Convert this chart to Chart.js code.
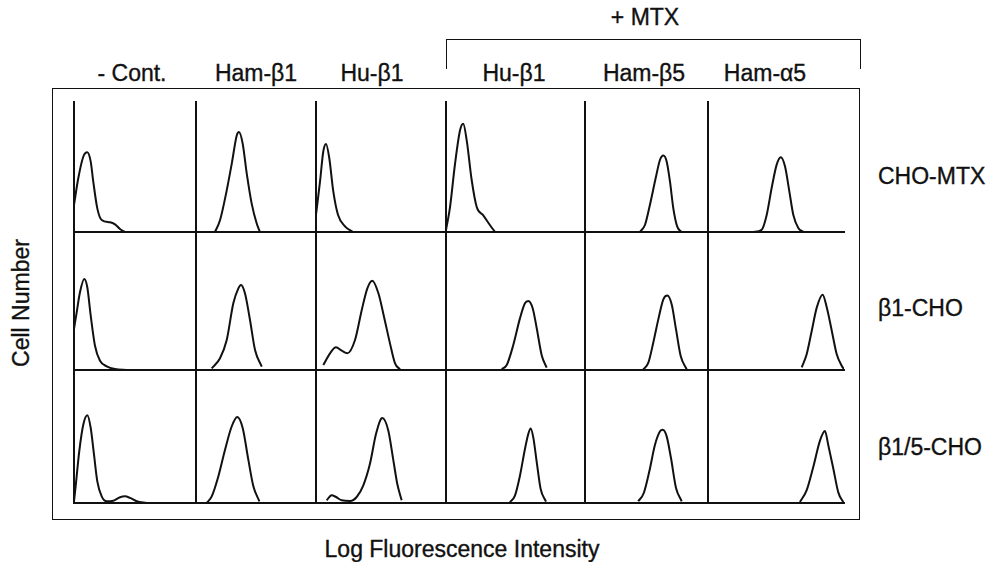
<!DOCTYPE html>
<html><head><meta charset="utf-8">
<script src="https://cdn.jsdelivr.net/npm/chart.js@4.4.1/dist/chart.umd.min.js"></script>
<style>
html,body{margin:0;padding:0;background:#fff;}
#root{position:relative;width:990px;height:562px;overflow:hidden;font-family:"Liberation Sans",Arial,Helvetica,sans-serif;color:#111;}
.lbl,.lblL{position:absolute;font-size:23px;white-space:nowrap;line-height:1;-webkit-text-stroke:0.35px #111;}
.lbl{transform:translate(-50%,-50%);}
.lblL{transform:translate(0,-50%);}
.box{position:absolute;box-sizing:border-box;}
.pane{position:absolute;}
</style></head><body><div id="root"></div>
<script>
// ---- text ----
const columns = ["- Cont.", "Ham-β1", "Hu-β1", "Hu-β1", "Ham-β5", "Ham-α5"];
const rows = ["CHO-MTX", "β1-CHO", "β1/5-CHO"];
const groupLabel = "+ MTX";
const xTitle = "Log Fluorescence Intensity";
const yTitle = "Cell Number";

// ---- histogram data: [log fluorescence channel (0-100), relative cell number (0-100)] ----
// row CHO-MTX
const choMtx_cont   = [[0,20.8],[3.5,41.3],[7.6,57.9],[10.9,61.3],[13.7,54.1],[15.8,38.7],[19.1,18.2],[22.7,9.2],[29.5,7.5],[33.6,5.9],[37.7,2.3],[41.8,0]];
const choMtx_hamB1  = [[15.8,0],[20,9],[25.6,32],[29.8,52.6],[34,74.4],[35.8,76.9],[38.9,68],[42.3,44.9],[46.4,21.8],[50.6,6.5],[53.3,0]];
const choMtx_huB1   = [[0,13.3],[3.1,38.9],[5.6,61.9],[7.7,67.7],[10.2,56.9],[13.3,31.2],[16.9,13.3],[22.3,4.3],[28.5,0]];
const choMtx_mtxHuB1  = [[0,1.5],[2.9,19.2],[6.5,52.5],[10.1,78.2],[12.4,83.3],[14.9,70.5],[18.5,39.8],[22.1,19.2],[26.8,12.8],[31.7,5.2],[35.3,0]];
const choMtx_mtxHamB5 = [[44.7,0],[48.8,5.6],[52.8,21],[57.7,42.5],[61,55.6],[63.7,58.9],[66.4,54.3],[69.1,38.7],[71.8,18.2],[75,4.1],[78.6,0]];
const choMtx_mtxHamA5 = [[33.3,0],[39.5,1.8],[43.2,13.3],[46.8,33.8],[50.5,51.8],[53.5,57.5],[56.6,50.5],[59.8,31.3],[62.7,13.3],[66.4,3.1],[70.1,0]];
// row β1-CHO
const b1_cont   = [[0,29.7],[2.2,41.8],[4.9,56.3],[8.4,66],[10.9,60],[13.7,39.4],[17.2,17.6],[21.3,6.7],[26.8,2.7],[33.6,0.7],[43.2,0]];
const b1_hamB1  = [[13.1,1.2],[20,8.5],[25.6,21.7],[31.1,48.3],[35.3,59.2],[37.5,61.6],[40.8,55.6],[45,36.2],[49.2,14.5],[54.8,2.4]];
const b1_huB1   = [[5.6,3.6],[10.8,12.1],[15.4,16.4],[19.8,14],[24.1,12.1],[30,21.7],[35.2,43.5],[39.5,59.2],[43.3,64.7],[48,55.6],[52.3,38.6],[56.9,19.3],[60.8,4.8],[64.6,0.5]];
const b1_mtxHuB1  = [[40.1,0.7],[43.7,3.6],[48.4,18.1],[53.2,37.4],[56.8,48.3],[59.2,50],[62.4,44.6],[65.3,30.1],[68.8,10.9],[72.4,1.7]];
const b1_mtxHamB5 = [[47.4,0.4],[51.5,5.3],[55.5,19.8],[59.6,36.7],[63.7,51.2],[66.9,54],[70.5,47.5],[74,29.4],[77.8,10.1],[82.7,0.4]];
const b1_mtxHamA5 = [[68.9,1.9],[72.6,11.6],[76.3,28.5],[80,45.4],[84.3,54.6],[87.3,45.4],[91,28.5],[94.6,11.6],[98.3,3.1],[100,0.5]];
// row β1/5-CHO
const b15_cont   = [[0,1.3],[1.5,13.8],[4.3,38.9],[7.6,58.9],[10.9,66],[13.7,56.4],[16.4,36.3],[19.1,16.3],[22.7,5],[26.8,1.3],[32.2,1.7],[37.7,4.3],[41.8,5],[45.9,3.8],[51.4,1.3],[59.6,0]];
const b15_hamB1  = [[8.9,0],[13.1,5],[18.6,20],[24.2,40.1],[29.8,57.7],[34.4,64.7],[38.9,56.4],[43.6,32.6],[47.8,12.6],[52.8,1.3]];
const b15_huB1   = [[8.2,2],[12,5.8],[15.4,4.5],[19.8,2],[26.2,1.5],[31.3,4.5],[36.4,13.3],[41.5,29.5],[46.2,52.1],[51,63.9],[55.6,54.6],[59.5,32.1],[62.5,14.5],[65.9,2]];
const b15_mtxHuB1  = [[46,0.5],[49.6,5.5],[53.2,20.5],[56.8,40.6],[59.2,51.9],[60.9,56.1],[62.8,49.3],[65.3,30.5],[68.1,10.5],[71.9,1]];
const b15_mtxHamB5 = [[43.3,1.3],[47.8,7.5],[52.3,23.8],[56.9,43.8],[61,53.9],[63.2,55.1],[66.4,50.1],[69.9,33.8],[74,11.3],[78.6,1.3]];
const b15_mtxHamA5 = [[67.6,0.8],[72.5,9.5],[77.4,27.1],[82.4,47.1],[86,54.1],[88.5,43.2],[92.2,25.6],[95.8,8],[99.5,0.5]];

const grid = [
  [choMtx_cont, choMtx_hamB1, choMtx_huB1, choMtx_mtxHuB1, choMtx_mtxHamB5, choMtx_mtxHamA5],
  [b1_cont, b1_hamB1, b1_huB1, b1_mtxHuB1, b1_mtxHamB5, b1_mtxHamA5],
  [b15_cont, b15_hamB1, b15_huB1, b15_mtxHuB1, b15_mtxHamB5, b15_mtxHamA5]
];

// ---- layout (pixels) ----
const colLeft  = [74, 196, 316, 446, 585, 708];
const colWidth = [122, 120, 130, 139, 123, 136];
const rowTop    = [102, 232, 370];
const rowHeight = [130, 138, 133];
const colLabelX = [132, 256, 372, 514, 644, 765];
const rowLabelY = [176, 308, 447];
const INK = '#111';

const root = document.getElementById('root');
function el(cls, css, text) {
  const d = document.createElement('div');
  d.className = cls;
  Object.assign(d.style, css);
  if (text !== undefined) d.textContent = text;
  root.appendChild(d);
  return d;
}

// outer frame
el('box', {left:'52px', top:'88px', width:'808px', height:'432px', border:'1.5px solid ' + INK});
// + MTX bracket
el('box', {left:'446px', top:'39px', width:'415px', height:'30px', borderTop:'1.5px solid '+INK, borderLeft:'1.5px solid '+INK, borderRight:'1.5px solid '+INK});
el('lbl', {left:'645px', top:'17px'}, groupLabel);

columns.forEach((c, i) => el('lbl', {left: colLabelX[i] + 'px', top: '73px'}, c));
rows.forEach((r, i) => el('lblL', {left: '878px', top: rowLabelY[i] + 'px'}, r));
el('lbl', {left:'462px', top:'549px'}, xTitle);
el('lbl', {left:'21px', top:'303px', transform:'translate(-50%,-50%) rotate(-90deg)'}, yTitle);

const PAD = 2;
for (let r = 0; r < 3; r++) {
  for (let c = 0; c < 6; c++) {
    const w = colWidth[c] + 2 * PAD, h = rowHeight[r] + 2 * PAD;
    const holder = el('pane', {left: (colLeft[c] - PAD) + 'px', top: (rowTop[r] - PAD) + 'px', width: w + 'px', height: h + 'px'});
    const cv = document.createElement('canvas');
    cv.width = w; cv.height = h;
    cv.style.width = w + 'px'; cv.style.height = h + 'px';
    holder.appendChild(cv);
    const axisOpts = (min, max) => ({
      type: 'linear', min, max, display: true,
      grid: {display: false, drawTicks: false},
      ticks: {display: false},
      border: {display: true, color: INK, width: 2}
    });
    new Chart(cv, {
      type: 'line',
      data: {datasets: [{
        data: grid[r][c].map(([x, y]) => ({x, y})),
        borderColor: INK, borderWidth: 2, pointRadius: 0,
        cubicInterpolationMode: 'monotone', fill: false
      }]},
      options: {
        responsive: false, animation: false, devicePixelRatio: 1, events: [],
        layout: {padding: PAD},
        plugins: {legend: {display: false}, tooltip: {enabled: false}},
        scales: {x: axisOpts(0, 100), y: axisOpts(0, 100)}
      }
    });
  }
}
</script>
</body></html>
